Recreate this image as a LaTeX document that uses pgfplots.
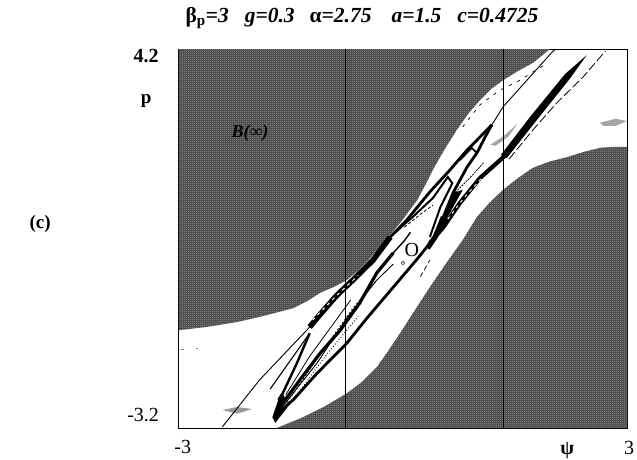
\documentclass[border=0pt]{standalone}
\usepackage{fontspec}
\setmainfont{Liberation Serif}
\usepackage{pgfplots}
\usetikzlibrary{patterns}
\pgfplotsset{compat=1.18}
\pgfdeclarepatternformonly{halftone}{\pgfpointorigin}{\pgfqpoint{2pt}{2pt}}{\pgfqpoint{2pt}{2pt}}{%
  \pgfpathrectangle{\pgfpointorigin}{\pgfqpoint{1pt}{1pt}}%
  \pgfpathrectangle{\pgfqpoint{1pt}{1pt}}{\pgfqpoint{1pt}{1pt}}%
  \pgfusepath{fill}}
\definecolor{region}{gray}{0.28}
\definecolor{regionlight}{gray}{0.56}
\tikzset{basin/.style={fill=region,draw=none,postaction={pattern=halftone,pattern color=regionlight}}}
\begin{document}
\begin{tikzpicture}[x=1pt,y=1pt]
\path[use as bounding box] (0,0) rectangle (637,459);
\begin{axis}[
  at={(179pt,31pt)},anchor=south west,
  width=448pt,height=379pt,scale only axis,
  xmin=-3,xmax=3,ymin=-3.2,ymax=4.2,
  ticks=none,
  axis line style={black,line width=1pt},
  clip mode=individual,
]
% basin of infinity, upper left
\addplot[basin] coordinates {
 (-3,4.2)(-3,-1.29)(-2.6,-1.22)(-2.22,-1.13)(-1.92,-1.03)(-1.47,-0.86)(-1.28,-0.72)(-1.11,-0.56)(-0.92,-0.44)(-0.75,-0.31)
 (-0.60,-0.12)(-0.44,0.12)(-0.24,0.46)(-0.04,0.80)(0.19,1.25)(0.30,1.55)(0.40,1.84)(0.56,2.25)(0.72,2.62)(0.88,2.95)(1.03,3.20)(1.18,3.42)(1.34,3.59)
 (1.54,3.77)(1.74,3.93)(1.97,4.2)} --cycle;
% basin of infinity, lower right
\addplot[basin] coordinates {
 (-1.69,-3.2)(-1.34,-2.99)(-1.05,-2.78)(-0.75,-2.52)(-0.55,-2.30)(-0.35,-2.01)(-0.20,-1.70)(-0.04,-1.35)(0.16,-0.90)(0.36,-0.45)
 (0.58,0.02)(0.80,0.47)(0.99,0.92)(1.16,1.20)(1.34,1.45)(1.54,1.68)(1.74,1.88)(1.96,2.00)(2.20,2.09)(2.42,2.19)(2.64,2.27)(2.82,2.29)(3,2.29)(3,-3.2)} --cycle;
% grey smudges
\addplot[fill=gray!70,draw=none] coordinates {(1.17,2.33)(1.35,2.50)(1.53,2.74)(1.42,2.50)(1.24,2.31)} --cycle;
\addplot[fill=gray!70,draw=none] coordinates {(2.64,2.76)(2.85,2.84)(3,2.79)(2.85,2.70)(2.68,2.70)} --cycle;
\addplot[fill=gray!80,draw=none] coordinates {(-2.42,-2.85)(-2.22,-2.79)(-2.02,-2.83)(-2.22,-2.92)} --cycle;
\addplot[gray,line width=0.8pt] coordinates {(-2.97,-1.67)(-2.93,-1.67)};
\addplot[gray,line width=0.8pt] coordinates {(-2.77,-1.65)(-2.75,-1.65)};
% vertical section lines
\addplot[black,line width=0.7pt] coordinates {(-0.77,-3.2)(-0.77,4.2)};
\addplot[black,line width=1pt] coordinates {(1.34,-3.2)(1.34,4.2)};
% long thin lines
\addplot[black,line width=0.9pt] coordinates {(-2.42,-3.18)(-1.92,-2.26)(-1.25,-1.23)};
\addplot[black,line width=1.1pt] coordinates {(-1.78,-2.44)(-1.25,-1.35)};
\addplot[black,line width=0.9pt] coordinates {(1.19,2.72)(1.34,3.07)(2.01,4.16)(2.05,4.2)};
\addplot[black,line width=0.7pt,dash pattern=on 3pt off 6pt] coordinates {(0.80,2.68)(1.03,3.11)(1.30,3.40)(1.53,3.56)(1.74,3.75)(1.94,3.93)};
\addplot[black,line width=0.8pt,dash pattern=on 9pt off 3pt] coordinates {(1.42,2.05)(1.74,2.62)(2.06,3.15)(2.41,3.65)(2.71,4.16)};
\addplot[black,line width=0.7pt,dash pattern=on 5pt off 3pt] coordinates {(0.23,-0.25)(0.36,0.08)};
% main lower strand
\addplot[black,line width=2.8pt] coordinates {(-1.67,-2.90)(-1.47,-2.65)(-1.15,-2.13)(-0.75,-1.54)(-0.48,-1.05)(-0.13,-0.45)(0.19,0.10)(0.36,0.41)};
\addplot[black,line width=4.2pt] coordinates {(0.36,0.41)(0.54,0.72)(0.76,1.19)(1.03,1.68)(1.30,2.03)(1.36,2.11)};
\addplot[white,line width=0.9pt,dash pattern=on 3pt off 4pt] coordinates {(0.60,0.88)(0.82,1.30)(1.08,1.72)};
% tapered end of the strand
\addplot[fill=black,draw=none] coordinates {(1.31,2.13)(1.71,2.89)(2.17,3.71)(2.46,4.08)(2.24,3.63)(1.79,2.81)(1.39,2.07)} --cycle;
% tip at lower left
\addplot[fill=black,draw=none] coordinates {(-1.75,-2.99)(-1.67,-2.65)(-1.61,-2.52)(-1.57,-2.65)(-1.65,-2.85)(-1.47,-2.65)(-1.71,-3.10)} --cycle;
% outer upper strand
\addplot[black,line width=2.4pt] coordinates {(-1.67,-2.65)(-1.61,-2.52)(-1.42,-1.93)(-1.25,-1.35)};
\addplot[black,line width=5.5pt] coordinates {(-1.25,-1.23)(-1.15,-1.05)(-0.88,-0.60)(-0.67,-0.31)(-0.40,0.08)(-0.17,0.53)};
\addplot[white,line width=1pt,dash pattern=on 3pt off 4pt] coordinates {(-1.21,-1.09)(-0.88,-0.60)(-0.60,-0.22)};
\addplot[black,line width=2.8pt] coordinates {(-0.17,0.53)(0.05,0.86)(0.36,1.41)(0.63,1.84)(0.86,2.23)(1.03,2.48)(1.19,2.72)};
% return strands from the upper tip
\addplot[black,line width=2.8pt] coordinates {(1.19,2.72)(1.10,2.48)(0.99,2.17)(0.86,1.90)(0.67,1.39)(0.54,0.92)};
\addplot[black,line width=5pt] coordinates {(0.54,0.92)(0.43,0.53)(0.33,0.31)};
% dark mass between the strands
\addplot[fill=black,draw=none] coordinates {(0.54,0.92)(0.67,1.39)(0.80,1.45)(0.56,0.82)(0.36,0.41)} --cycle;
\addplot[black,line width=0.8pt,dash pattern=on 2pt off 1pt] coordinates {(0.70,1.40)(0.92,1.72)(1.08,1.98)};
% inner arches
\addplot[black,line width=1.8pt] coordinates {(0.76,2.03)(0.92,2.27)(0.99,2.17)};
\addplot[black,line width=2pt] coordinates {(-0.11,0.61)(0.13,0.92)(0.40,1.29)(0.60,1.70)(0.66,1.58)(0.50,1.11)(0.36,0.53)};
\addplot[black,line width=0.8pt,dash pattern=on 3pt off 2pt] coordinates {(0.02,0.72)(0.22,0.96)(0.40,1.15)};
% middle thick strand back to the tip
\addplot[black,line width=3.2pt] coordinates {(-0.13,0.22)(-0.35,-0.17)(-0.58,-0.76)(-0.84,-1.29)(-1.11,-1.74)(-1.38,-2.26)(-1.65,-2.79)};
\addplot[black,line width=1.4pt] coordinates {(-0.13,0.22)(0.02,0.46)(0.10,0.62)};
\addplot[black,line width=0.9pt] coordinates {(-1.65,-2.85)(-1.15,-1.93)(-0.75,-1.05)(-0.35,-0.31)(-0.13,0.00)};
\addplot[black,line width=0.8pt,dash pattern=on 2pt off 2pt] coordinates {(-1.55,-2.70)(-1.11,-1.76)(-0.67,-0.86)(-0.35,-0.31)};
\addplot[black,line width=0.8pt,dash pattern=on 1pt off 2pt] coordinates {(-1.42,-2.55)(-1.02,-1.76)(-0.60,-1.02)};
\addplot[black,line width=0.8pt] coordinates {(-1.57,-2.55)(-1.25,-1.80)(-0.95,-1.20)(-0.70,-0.70)};
% saddle point
\addplot[only marks,mark=o,mark size=1.8pt,mark options={gray!70!black,line width=0.8pt}] coordinates {(0.00,0.02)};
% labels
\node[font=\fontsize{20}{20}\selectfont] at (axis cs:0.12,0.28) {O};
\node[font=\fontsize{18}{18}\selectfont\bfseries\itshape,black] at (axis cs:-2.05,2.56) {B(∞)};
\node[font=\fontsize{20}{20}\selectfont\bfseries] at (axis cs:-3.44,4.06) {4.2};
\node[font=\fontsize{19}{19}\selectfont\bfseries] at (axis cs:-3.44,3.18) {p};
\node[font=\fontsize{20}{20}\selectfont] at (axis cs:-3.48,-2.95) {-3.2};
\node[font=\fontsize{20}{20}\selectfont] at (axis cs:-2.95,-3.57) {-3};
\node[font=\fontsize{20}{20}\selectfont\bfseries] at (axis cs:2.20,-3.65) {ψ};
\node[font=\fontsize{20}{20}\selectfont] at (axis cs:3.03,-3.59) {3};
\node[font=\fontsize{19}{19}\selectfont\bfseries] at (axis cs:-4.86,0.78) {(c)};
\node[font=\fontsize{21.5}{21.5}\selectfont\bfseries] at (axis cs:-0.55,4.80) {β\textsubscript{p}=\textit{3\hspace{16pt}g=0.3\hspace{15pt}}α\textit{=2.75\hspace{20pt}a=1.5\hspace{16pt}c=0.4725}};
\end{axis}
\end{tikzpicture}
\end{document}
